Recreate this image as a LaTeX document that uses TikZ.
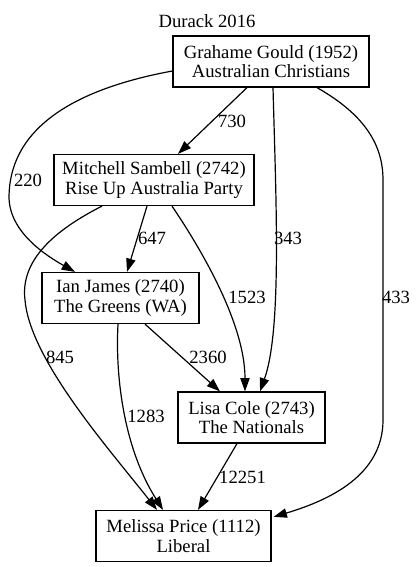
\documentclass[tikz,border=0pt]{standalone}
\usepackage{fontspec}
\setmainfont{Liberation Serif}
\usetikzlibrary{calc,arrows.meta}
\begin{document}
\begin{tikzpicture}[x=0.75pt,y=-0.75pt,
  box/.style={draw,line width=0.9pt,inner sep=0pt,align=center,font=\fontsize{14}{14.5}\selectfont},
  lbl/.style={inner sep=0pt,font=\fontsize{14}{14.5}\selectfont},
  e/.style={line width=0.9pt,-{Triangle[length=10pt,width=7pt]}}]
\useasboundingbox (0,0) rectangle (417,567);
\node[lbl] (title) at (207,21) {Durack 2016};
\node[box,minimum width=147pt,minimum height=38.25pt] (g) at (271,61.5) {Grahame Gould (1952)\\Australian Christians};
\node[box,minimum width=150pt,minimum height=38.25pt] (s) at (154,180) {Mitchell Sambell (2742)\\Rise Up Australia Party};
\node[box,minimum width=117.75pt,minimum height=38.25pt] (i) at (120.5,298) {Ian James (2740)\\The Greens (WA)};
\node[box,minimum width=110.25pt,minimum height=38.25pt] (l) at (251.5,417.5) {Lisa Cole (2743)\\The Nationals};
\node[box,minimum width=131.25pt,minimum height=38.25pt] (m) at (183.5,536) {Melissa Price (1112)\\Liberal};
% edges
\draw[e] ($(g.south)+(-24,0)$) -- ($(s.north)+(24,0)$);
\draw[e] ($(g.west)+(0,9.5)$) .. controls (80,88) and (9,125) .. (9,198) .. controls (10,232) and (45,255) .. ($(i.north)+(-45.5,0)$);
\draw[e] ($(g.south)+(2,0)$) .. controls (276,200) and (282,330) .. ($(l.north)+(8.5,0)$);
\draw[e] ($(g.south)+(46,0)$) .. controls (365,115) and (383,145) .. (383,180) -- (383,420) .. controls (383,475) and (330,500) .. ($(m.north east)+(2,7)$);
\draw[e] ($(s.south)+(-7,0)$) -- ($(i.north)+(6.5,0)$);
\draw[e] ($(s.south)+(18,0)$) .. controls (195,240) and (245,320) .. ($(l.north)+(-6.5,0)$);
\draw[e] ($(s.south)+(-52,0)$) .. controls (55,230) and (20,260) .. (25,300) .. controls (30,360) and (110,450) .. ($(m.north)+(-26.5,0)$);
\draw[e] ($(i.south)+(24.5,0)$) -- ($(l.north)+(-31.5,0)$);
\draw[e] ($(i.south)+(-2.5,0)$) .. controls (115,380) and (125,450) .. ($(m.north)+(-20.5,0)$);
\draw[e] ($(l.south)+(-14.5,0)$) -- ($(m.north)+(14.5,0)$);
% labels
\node[lbl] (l730) at (232,121) {730};
\node[lbl] (l220) at (28,180) {220};
\node[lbl] (l343) at (288,238) {343};
\node[lbl] (l433) at (396,297) {433};
\node[lbl] (l647) at (152,238) {647};
\node[lbl] (l1523) at (247,297) {1523};
\node[lbl] (l845) at (60,357) {845};
\node[lbl] (l2360) at (208,357) {2360};
\node[lbl] (l1283) at (146,416) {1283};
\node[lbl] (l12251) at (242.5,477) {12251};
\end{tikzpicture}
\end{document}
